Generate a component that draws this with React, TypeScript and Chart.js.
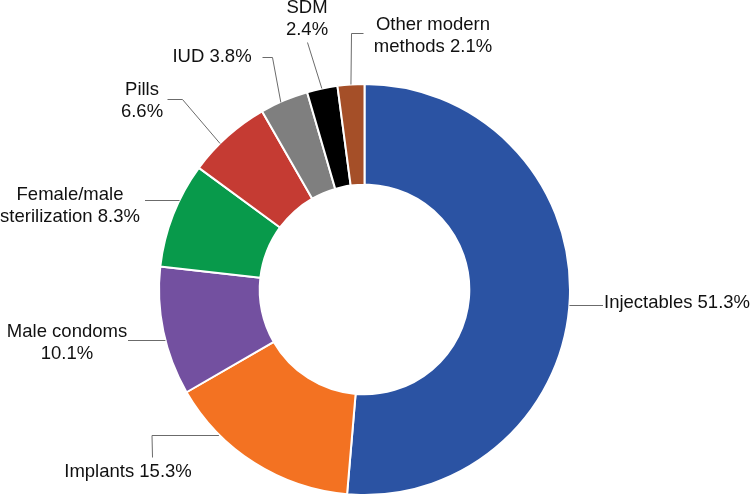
import React, { useEffect, useRef } from "react";
import { Chart, registerables } from "chart.js";

Chart.register(...registerables);

const categories = [
  "Injectables",
  "Implants",
  "Male condoms",
  "Female/male sterilization",
  "Pills",
  "IUD",
  "SDM",
  "Other modern methods",
];
const shares = [51.3, 15.3, 10.1, 8.3, 6.6, 3.8, 2.4, 2.1];
const sliceColors = [
  "#2B53A3",
  "#F37222",
  "#7350A0",
  "#089A4B",
  "#C53B33",
  "#7F7F7F",
  "#000000",
  "#A54F28",
];
const labelLines = [
  ["Injectables 51.3%"],
  ["Implants 15.3%"],
  ["Male condoms", "10.1%"],
  ["Female/male", "sterilization 8.3%"],
  ["Pills", "6.6%"],
  ["IUD 3.8%"],
  ["SDM", "2.4%"],
  ["Other modern", "methods 2.1%"],
];

// layout of the annotations: anchor fraction along slice, text position, leader elbows
type LabelLayout = {
  frac: number;
  x: number;
  y: number;
  align: CanvasTextAlign;
  pts: (number | null)[][]; // null -> use anchor coordinate
};
const labelLayout: LabelLayout[] = [
  { frac: 0.51, x: 604, y: 303, align: "left", pts: [[603, null]] },
  { frac: 0.73, x: 128, y: 472, align: "center", pts: [[152, null], [152, 457]] },
  { frac: 0.43, x: 67, y: 332, align: "center", pts: [[128, null]] },
  { frac: 0.65, x: 70, y: 195, align: "center", pts: [[145, null]] },
  { frac: 0.38, x: 142, y: 90, align: "center", pts: [[182, 99], [167, 99]] },
  { frac: 0.43, x: 212, y: 57, align: "center", pts: [[272, 57], [262, 57]] },
  { frac: 0.49, x: 307, y: 8, align: "center", pts: [[307, 42]] },
  { frac: 0.5, x: 433, y: 25, align: "center", pts: [[351, 33], [363, 33]] },
];

const FONT = '18.5px "Liberation Sans", Arial, sans-serif';
const LINE_H = 22;

const leaderPlugin = {
  id: "leaderLabels",
  afterDraw(chart: any) {
    const ctx = chart.ctx as CanvasRenderingContext2D;
    const meta = chart.getDatasetMeta(0);
    ctx.save();
    meta.data.forEach((arc: any, i: number) => {
      const L = labelLayout[i];
      const p = arc.getProps(["x", "y", "startAngle", "endAngle", "outerRadius"], true);
      const a = p.startAngle + (p.endAngle - p.startAngle) * L.frac;
      const ax = p.x + Math.cos(a) * p.outerRadius;
      const ay = p.y + Math.sin(a) * p.outerRadius;
      ctx.strokeStyle = "#6b6b6b";
      ctx.lineWidth = 1;
      ctx.beginPath();
      ctx.moveTo(ax, Math.round(ay) + 0.5);
      let first = true;
      for (const pt of L.pts) {
        const px = pt[0] as number;
        const py = pt[1] === null ? ay : (pt[1] as number);
        if (first && pt[1] === null) {
          ctx.lineTo(px, Math.round(py) + 0.5);
        } else {
          ctx.lineTo(Math.round(px) + 0.5, Math.round(py) + 0.5);
        }
        first = false;
      }
      ctx.stroke();
      ctx.fillStyle = "#111111";
      ctx.font = FONT;
      ctx.textAlign = L.align;
      ctx.textBaseline = "middle";
      labelLines[i].forEach((t, k) => {
        ctx.fillText(t, L.x, L.y + k * LINE_H);
      });
    });
    ctx.restore();
  },
};

export default function App() {
  const ref = useRef<HTMLCanvasElement>(null);
  useEffect(() => {
    if (!ref.current) return;
    const chart = new Chart(ref.current, {
      type: "doughnut",
      data: {
        labels: categories,
        datasets: [
          {
            data: shares,
            backgroundColor: sliceColors,
            borderColor: "#ffffff",
            borderWidth: 2,
          },
        ],
      },
      options: {
        animation: false,
        responsive: false,
        cutout: "51%",
        layout: { padding: { left: 158, right: 179, top: 83, bottom: 0 } },
        plugins: {
          legend: { display: false },
          tooltip: { enabled: false },
        },
      },
      plugins: [leaderPlugin],
    });
    return () => chart.destroy();
  }, []);
  return (
    <div style={{ position: "fixed", left: 0, top: 0, width: 750, height: 496, background: "#fff" }}>
      <canvas ref={ref} width={750} height={496} style={{ display: "block" }} />
    </div>
  );
}
